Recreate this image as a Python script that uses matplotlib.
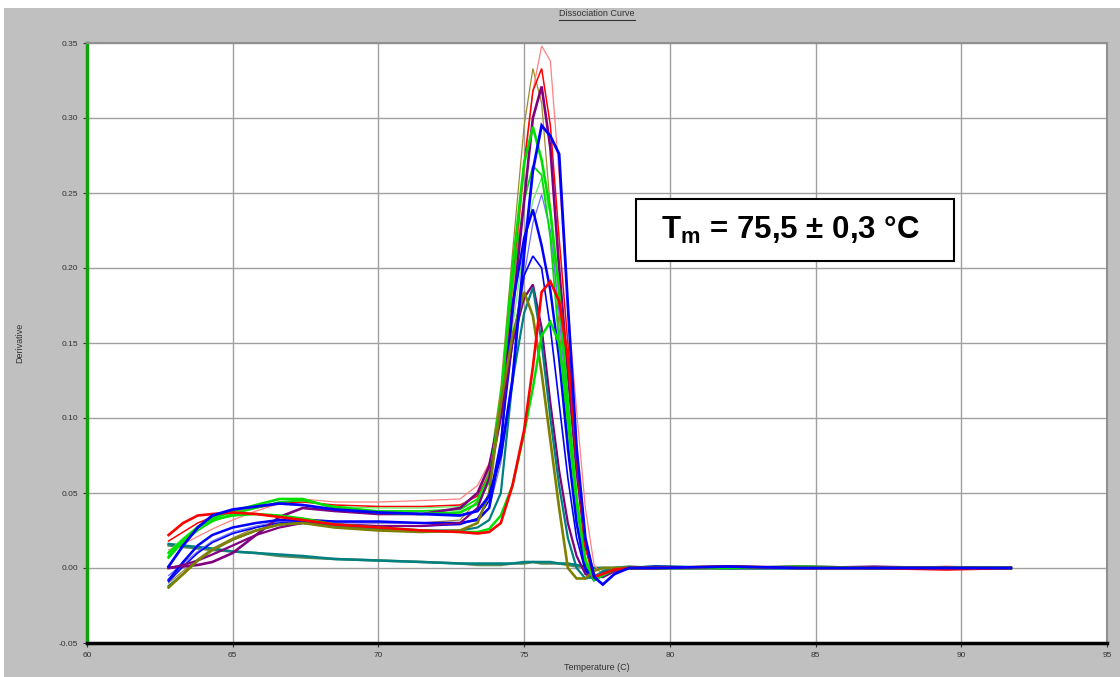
import matplotlib
matplotlib.use("Agg")
import matplotlib.pyplot as plt
from matplotlib.patches import Rectangle
from matplotlib.lines import Line2D

plt.rcParams['font.family'] = ['Liberation Sans', 'DejaVu Sans']
plt.rcParams['mathtext.fontset'] = 'custom'
plt.rcParams['mathtext.bf'] = 'Liberation Sans:bold'
plt.rcParams['mathtext.rm'] = 'Liberation Sans:bold'

# temperature grid (C), shared by all wells
temp = [62.8, 63.3, 63.8, 64.3, 65.0, 65.8, 66.6, 67.4, 68.5, 70.0, 71.5, 72.8,
        73.4, 73.8, 74.2, 74.6, 75.0, 75.3, 75.6, 75.9, 76.2, 76.5, 76.8, 77.1,
        77.4, 77.7, 78.1, 78.6, 79.5, 82.0, 84.5, 87.0, 89.5, 91.7]

# derivative curves
pink_thin = [0.012, 0.016, 0.021, 0.026, 0.032, 0.038, 0.043, 0.046, 0.044, 0.044, 0.045, 0.046,
             0.055, 0.070, 0.100, 0.180, 0.265, 0.318, 0.348, 0.338, 0.262, 0.175, 0.105, 0.040,
             0.002, -0.005, -0.002, 0.000, 0.001, 0.000, 0.001, 0.000, -0.001, 0.000]
red_a = [0.018, 0.024, 0.030, 0.034, 0.037, 0.040, 0.043, 0.044, 0.042, 0.041, 0.041, 0.042,
         0.048, 0.062, 0.105, 0.190, 0.270, 0.318, 0.333, 0.295, 0.220, 0.150, 0.080, 0.020,
         -0.004, -0.006, -0.002, 0.000, 0.000, 0.001, 0.000, 0.000, 0.001, 0.000]
olive_thin = [-0.010, -0.002, 0.006, 0.013, 0.020, 0.027, 0.031, 0.033, 0.031, 0.030, 0.030, 0.032,
              0.045, 0.065, 0.120, 0.210, 0.295, 0.333, 0.310, 0.240, 0.160, 0.095, 0.040, 0.005,
              -0.005, -0.003, 0.000, 0.000, 0.001, 0.000, 0.000, 0.000, 0.000, 0.000]
purple_a = [0.000, 0.001, 0.002, 0.004, 0.010, 0.022, 0.034, 0.040, 0.038, 0.036, 0.036, 0.040,
            0.050, 0.068, 0.105, 0.170, 0.245, 0.300, 0.321, 0.280, 0.200, 0.130, 0.065, 0.015,
            -0.005, -0.006, -0.002, 0.000, 0.000, 0.000, 0.001, 0.000, 0.000, 0.000]
green_a = [0.007, 0.018, 0.027, 0.033, 0.038, 0.042, 0.046, 0.046, 0.040, 0.037, 0.036, 0.037,
           0.043, 0.058, 0.110, 0.200, 0.270, 0.294, 0.272, 0.238, 0.185, 0.110, 0.045, 0.003,
           -0.008, -0.004, 0.000, 0.000, 0.001, 0.000, 0.000, 0.000, 0.000, 0.000]
blue_a = [0.001, 0.015, 0.027, 0.035, 0.039, 0.041, 0.043, 0.042, 0.039, 0.037, 0.036, 0.035,
          0.038, 0.048, 0.075, 0.125, 0.210, 0.265, 0.295, 0.288, 0.276, 0.175, 0.080, 0.020,
          -0.006, -0.011, -0.004, 0.000, 0.000, 0.001, 0.000, 0.000, 0.000, 0.000]
green_thin = [0.011, 0.020, 0.028, 0.033, 0.037, 0.040, 0.044, 0.045, 0.041, 0.040, 0.040, 0.041,
              0.050, 0.068, 0.100, 0.160, 0.215, 0.245, 0.260, 0.235, 0.180, 0.110, 0.050, 0.008,
              -0.006, -0.004, 0.000, 0.000, 0.000, 0.000, 0.001, 0.000, 0.000, 0.000]
blue_thin = [-0.005, 0.003, 0.011, 0.018, 0.024, 0.028, 0.031, 0.031, 0.030, 0.030, 0.030, 0.030,
             0.033, 0.040, 0.070, 0.130, 0.195, 0.230, 0.249, 0.225, 0.170, 0.100, 0.040, 0.004,
             -0.006, -0.003, 0.000, 0.000, 0.000, 0.000, 0.000, 0.001, 0.000, 0.000]
blue_b = [-0.008, 0.004, 0.015, 0.022, 0.027, 0.030, 0.032, 0.032, 0.031, 0.031, 0.030, 0.030,
          0.032, 0.040, 0.080, 0.175, 0.220, 0.239, 0.215, 0.185, 0.140, 0.080, 0.030, 0.000,
          -0.008, -0.005, -0.001, 0.000, 0.001, 0.000, 0.000, 0.000, 0.000, 0.000]
red_b = [0.022, 0.030, 0.035, 0.036, 0.037, 0.036, 0.034, 0.032, 0.029, 0.027, 0.025, 0.024,
         0.023, 0.024, 0.030, 0.055, 0.092, 0.134, 0.184, 0.191, 0.178, 0.140, 0.075, 0.015,
         -0.006, -0.004, -0.001, 0.000, 0.000, 0.001, 0.000, 0.000, -0.001, 0.000]
purple_b = [0.000, 0.002, 0.005, 0.009, 0.015, 0.022, 0.027, 0.030, 0.029, 0.028, 0.028, 0.030,
            0.040, 0.060, 0.100, 0.150, 0.180, 0.189, 0.160, 0.110, 0.065, 0.030, 0.008, -0.004,
            -0.007, -0.003, 0.000, 0.000, 0.000, 0.000, 0.000, 0.001, 0.000, 0.000]
teal_a = [-0.012, -0.004, 0.005, 0.012, 0.019, 0.025, 0.029, 0.030, 0.028, 0.026, 0.025, 0.025,
          0.027, 0.032, 0.050, 0.125, 0.170, 0.187, 0.150, 0.100, 0.055, 0.020, 0.000, -0.007,
          -0.006, -0.002, 0.000, 0.000, 0.000, 0.000, 0.000, 0.000, 0.000, 0.000]
olive_a = [-0.013, -0.004, 0.005, 0.012, 0.019, 0.025, 0.029, 0.030, 0.027, 0.025, 0.024, 0.025,
           0.030, 0.050, 0.110, 0.155, 0.184, 0.168, 0.130, 0.085, 0.040, 0.000, -0.007, -0.007,
           -0.002, 0.000, 0.000, 0.000, 0.000, 0.001, 0.000, 0.000, 0.000, 0.000]
green_b = [0.010, 0.019, 0.027, 0.032, 0.035, 0.036, 0.035, 0.033, 0.029, 0.027, 0.025, 0.024,
           0.024, 0.026, 0.035, 0.055, 0.090, 0.120, 0.155, 0.164, 0.150, 0.100, 0.045, 0.005,
           -0.008, -0.005, -0.001, 0.000, 0.000, 0.000, 0.001, 0.000, 0.000, 0.000]
blue_c = [-0.009, 0.001, 0.010, 0.017, 0.023, 0.027, 0.030, 0.031, 0.029, 0.028, 0.028, 0.029,
          0.033, 0.045, 0.085, 0.150, 0.195, 0.208, 0.200, 0.160, 0.110, 0.060, 0.020, -0.002,
          -0.007, -0.003, 0.000, 0.000, 0.000, 0.000, 0.000, 0.000, 0.000, 0.000]
green_c = [0.008, 0.017, 0.025, 0.031, 0.036, 0.040, 0.044, 0.045, 0.041, 0.038, 0.038, 0.039,
           0.046, 0.062, 0.115, 0.190, 0.245, 0.268, 0.262, 0.220, 0.150, 0.085, 0.030, -0.002,
           -0.008, -0.004, 0.000, 0.000, 0.000, 0.001, 0.000, 0.000, 0.000, 0.000]
ntc_a = [0.016, 0.015, 0.014, 0.013, 0.011, 0.010, 0.009, 0.008, 0.006, 0.005, 0.004, 0.003,
         0.003, 0.003, 0.003, 0.003, 0.004, 0.004, 0.004, 0.004, 0.003, 0.003, 0.002, 0.001,
         0.000, 0.000, 0.000, 0.000, 0.000, 0.000, 0.000, 0.000, 0.000, 0.000]
ntc_b = [0.015, 0.014, 0.013, 0.012, 0.011, 0.010, 0.008, 0.007, 0.006, 0.005, 0.004, 0.003,
         0.002, 0.002, 0.002, 0.003, 0.003, 0.004, 0.003, 0.003, 0.003, 0.002, 0.001, 0.001,
         0.000, 0.000, 0.000, 0.001, 0.000, 0.000, 0.000, 0.000, 0.000, 0.000]

xticks = [60, 65, 70, 75, 80, 85, 90, 95]
yticks = [-0.05, 0.00, 0.05, 0.10, 0.15, 0.20, 0.25, 0.30, 0.35]

curves = [
    (ntc_b, '#5a8a5a', 1.8), (ntc_a, '#008080', 1.8),
    (olive_thin, '#a08a30', 0.9), (pink_thin, '#ff8080', 0.9),
    (red_a, '#ff0000', 1.1), (green_thin, '#66ee66', 0.9),
    (blue_thin, '#7070ff', 0.9), (green_c, '#00dd00', 1.3),
    (blue_c, '#0000ff', 1.2), (purple_a, '#800080', 1.9),
    (green_a, '#00e000', 1.9), (blue_b, '#0000ff', 1.8),
    (purple_b, '#800080', 1.6), (teal_a, '#008080', 1.6),
    (olive_a, '#808000', 1.9), (green_b, '#00e000', 1.8),
    (red_b, '#ff0000', 1.9), (blue_a, '#0000ff', 2.0),
]

fig = plt.figure(figsize=(11.2, 6.77), dpi=100)
fig.patch.set_facecolor('white')
fig.patches.append(Rectangle((4 / 1120, 0), 1, 1 - 8 / 677, transform=fig.transFigure,
                             facecolor='#c0c0c0', edgecolor='none', zorder=-10))

ax = fig.add_axes([87 / 1120, 1 - 643 / 677, 1020 / 1120, 600 / 677])
ax.set_facecolor('white')

for vals, col, lw in curves:
    ax.plot(temp, vals, color=col, lw=lw, solid_joinstyle='miter')

ax.set_xlim(60, 95)
ax.set_ylim(-0.05, 0.35)
ax.set_xticks(xticks)
ax.set_yticks(yticks)
ax.set_yticklabels(['%.2f' % v for v in yticks])
ax.tick_params(labelsize=6, colors='#333333', length=3, width=0.8)
ax.grid(True, color='#a0a0a0', lw=1)
ax.set_axisbelow(True)

ax.spines['left'].set_color('#10a010')
ax.spines['left'].set_linewidth(2.5)
ax.spines['bottom'].set_color('black')
ax.spines['bottom'].set_linewidth(2.5)
for s in ('top', 'right'):
    ax.spines[s].set_color('#909090')
    ax.spines[s].set_linewidth(1.5)

ax.set_xlabel('Temperature (C)', fontsize=6.5, color='#333333', labelpad=3)
fig.text(20 / 1120, 1 - 343 / 677, 'Derivative', rotation=90, fontsize=6.5,
         color='#333333', ha='center', va='center')

title = fig.text(597 / 1120, 1 - 14 / 677, 'Dissociation Curve', fontsize=6.5,
                 color='#333333', ha='center', va='center')
fig.canvas.draw()
bb = title.get_window_extent().transformed(fig.transFigure.inverted())
fig.add_artist(Line2D([bb.x0, bb.x1], [bb.y0 - 0.002, bb.y0 - 0.002],
                      transform=fig.transFigure, color='#333333', lw=0.8))

# Tm box
ax.add_patch(Rectangle((0.538, 0.637), 0.312, 0.103, transform=ax.transAxes,
                       facecolor='white', edgecolor='black', lw=1.5, zorder=5))
ax.text(0.5627, 0.688, r'$\mathbf{T_m}$ = 75,5 ± 0,3 °C', transform=ax.transAxes,
        fontsize=22.5, fontweight='bold', ha='left', va='center', zorder=6,
        family=['Liberation Sans', 'DejaVu Sans'])

fig.savefig('out.png', dpi=100)
